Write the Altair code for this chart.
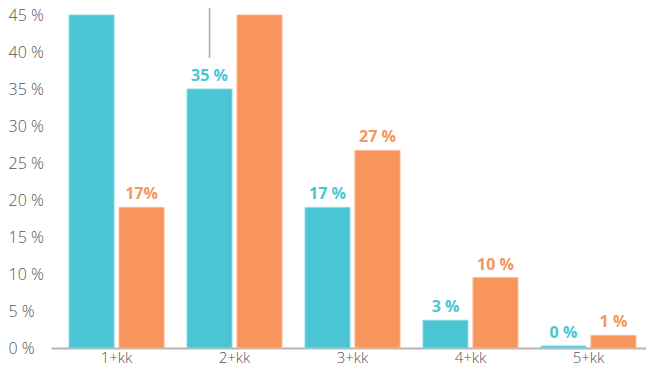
import altair as alt
import pandas as pd

categories = ["1+kk", "2+kk", "3+kk", "4+kk", "5+kk"]
series_names = ["A", "B"]
teal_values = [45, 35, 19, 3.75, 0.27]
orange_values = [19, 45, 26.7, 9.5, 1.7]
teal_labels = ["45 %", "35 %", "17 %", "3 %", "0 %"]
orange_labels = ["17%", "45 %", "27 %", "10 %", "1 %"]
colors = ["#4BC4D4", "#F7955D"]
stroke_colors = ["#8AD9E3", "#FAB68C"]
y_ticks = [0, 5, 10, 15, 20, 25, 30, 35, 40, 45]

# leader line annotation above the 2+kk teal bar
leader_cat = ["2+kk"]
leader_series = ["A"]
leader_start = [39.2]
leader_end = [48]

rows = []
for i, c in enumerate(categories):
    rows.append({"cat": c, "series": "A", "value": teal_values[i], "label": teal_labels[i]})
    rows.append({"cat": c, "series": "B", "value": orange_values[i], "label": orange_labels[i]})
df = pd.DataFrame(rows)

leader_df = pd.DataFrame({"cat": leader_cat, "series": leader_series,
                          "y1": leader_start, "y2": leader_end})

x_scale = alt.Scale(paddingInner=0.195, paddingOuter=0.153, range=[0, 603])
x_axis = alt.Axis(title=None, labelAngle=0, ticks=False, domain=True,
                  domainColor="#b5b5b5", domainWidth=2,
                  labelFont="Open Sans", labelFontSize=15, labelFontWeight=300,
                  labelColor="#555555", labelPadding=2, grid=False)
y_axis = alt.Axis(title=None, values=y_ticks, labelExpr="datum.value + ' %'",
                  ticks=False, domain=False, grid=False, labelOverlap=False,
                  labelSeparation=0, labelFlush=False,
                  labelAlign="left", labelPadding=43,
                  labelFont="Open Sans", labelFontSize=16, labelFontWeight=300,
                  labelColor="#555555")
xo_scale = alt.Scale(paddingInner=0.1, paddingOuter=0)
y_scale = alt.Scale(domain=[0, 45], nice=False)
color_scale = alt.Scale(domain=series_names, range=colors)

bars = alt.Chart(df).mark_bar(strokeWidth=1).encode(
    x=alt.X("cat:N", sort=categories, scale=x_scale, axis=x_axis),
    xOffset=alt.XOffset("series:N", sort=series_names, scale=xo_scale),
    y=alt.Y("value:Q", scale=y_scale, axis=y_axis),
    color=alt.Color("series:N", scale=color_scale, legend=None),
    stroke=alt.Stroke("series:N", scale=alt.Scale(domain=series_names, range=stroke_colors), legend=None),
)

labels = alt.Chart(df).mark_text(
    font="Open Sans", fontSize=16, fontWeight="bold", baseline="alphabetic", dy=-8
).encode(
    x=alt.X("cat:N", sort=categories, scale=x_scale, axis=x_axis),
    xOffset=alt.XOffset("series:N", sort=series_names, scale=xo_scale),
    y=alt.Y("value:Q", scale=y_scale, axis=y_axis),
    text="label:N",
    color=alt.Color("series:N", scale=color_scale, legend=None),
)

leader = alt.Chart(leader_df).mark_rule(color="#aaaaaa", strokeWidth=1.5).encode(
    x=alt.X("cat:N", sort=categories, scale=x_scale, axis=x_axis),
    xOffset=alt.XOffset("series:N", sort=series_names, scale=xo_scale),
    y=alt.Y("y1:Q", scale=y_scale, axis=y_axis),
    y2="y2:Q",
)

chart = alt.layer(bars, labels, leader).properties(
    width=595, height=333,
    autosize="none",
    padding={"top": 7, "left": 43, "right": 0, "bottom": 15},
    background="white",
).configure_view(stroke=None).configure_axis(labelOverlap=False)

chart.save("out.html", embed_options={"renderer": "svg", "actions": False})
